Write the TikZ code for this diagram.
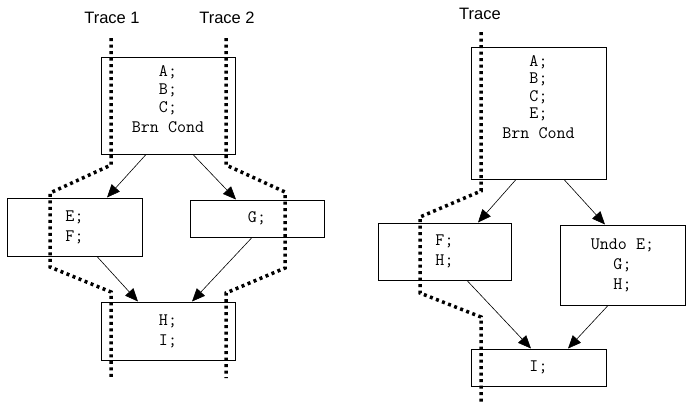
\documentclass[tikz,border=0pt]{standalone}
\usepackage{fontspec}
\setmainfont{Liberation Sans}
\usetikzlibrary{arrows.meta}

\begin{document}
\begin{tikzpicture}[x=1pt, y=-1pt, >={Triangle[length=13pt,width=11pt]},
    bloco/.style={draw, line width=1pt, inner sep=0pt, align=center,
      font=\ttfamily\fontsize{17.5pt}{20pt}\selectfont},
    seta/.style={->, line width=0.6pt},
    rastro/.style={line width=3.5pt, dash pattern=on 3pt off 3.5pt},
    rotulo/.style={font=\fontsize{16.5pt}{18pt}\selectfont, anchor=base, inner sep=0pt}]
  \useasboundingbox (0,0) rectangle (686,402);

  % Blocos do primeiro diagrama
  \node[bloco] (topo1) at (168,105.5)
    {\parbox[c][97pt][t]{134pt}{\centering\fontsize{17.5pt}{18pt}\selectfont
      \vspace*{8.5pt}A;\\B;\\C;\\[2pt]Brn Cond}};
  \node[bloco, minimum width=135pt, minimum height=58pt] (ef) at (74.5,227) {E;\\F;};
  \node[bloco, minimum width=134pt, minimum height=37pt] (g) at (257,218.5) {G;};
  \node[bloco, minimum width=134pt, minimum height=58pt] (hi) at (168,331) {H;\\I;};

  % Blocos do segundo diagrama
  \node[bloco] (topo2) at (538.5,113)
    {\parbox[c][132pt][t]{135pt}{\centering\fontsize{17.5pt}{17.5pt}\selectfont
      \vspace*{8.5pt}A;\\B;\\C;\\E;\\[2pt]Brn Cond}};
  \node[bloco, minimum width=133pt, minimum height=57pt] (fh) at (444.5,251.5) {F;\\H;};
  \node[bloco, minimum width=125pt, minimum height=80pt] (undo) at (622.5,265) {Undo E;\\G;\\H;};
  \node[bloco, minimum width=135pt, minimum height=37pt] (i) at (538.5,367.5) {I;};

  % Setas
  \draw[seta] ([xshift=-22pt]topo1.south) -- ([xshift=32.5pt]ef.north);
  \draw[seta] ([xshift=25pt]topo1.south) -- ([xshift=-21pt]g.north);
  \draw[seta] ([xshift=22.5pt]ef.south) -- ([xshift=-30pt]hi.north);
  \draw[seta] ([xshift=-5pt]g.south) -- ([xshift=24pt]hi.north);
  \draw[seta] ([xshift=-22.5pt]topo2.south) -- ([xshift=33.5pt]fh.north);
  \draw[seta] ([xshift=25.5pt]topo2.south) -- ([xshift=-17.5pt]undo.north);
  \draw[seta] ([xshift=22.5pt]fh.south) -- ([xshift=-7.5pt]i.north);
  \draw[seta] ([xshift=-14.5pt]undo.south) -- ([xshift=29.5pt]i.north);

  % Rótulos dos traços
  \node[rotulo] (traco1) at (112,23) {Trace 1};
  \node[rotulo] (traco2) at (227,23) {Trace 2};
  \node[rotulo] (traco) at (480,19) {Trace};

  % Traços pontilhados
  \draw[rastro] (111,38) -- (111,165) -- (50,193) -- (50,267) -- (111,292) -- (111,378);
  \draw[rastro] (226,38) -- (226,165) -- (285,192) -- (285,268) -- (226,293) -- (226,378);
  \draw[rastro] (481,32) -- (481,191) -- (420,217) -- (420,293) -- (481,317) -- (481,402);
\end{tikzpicture}
\end{document}
